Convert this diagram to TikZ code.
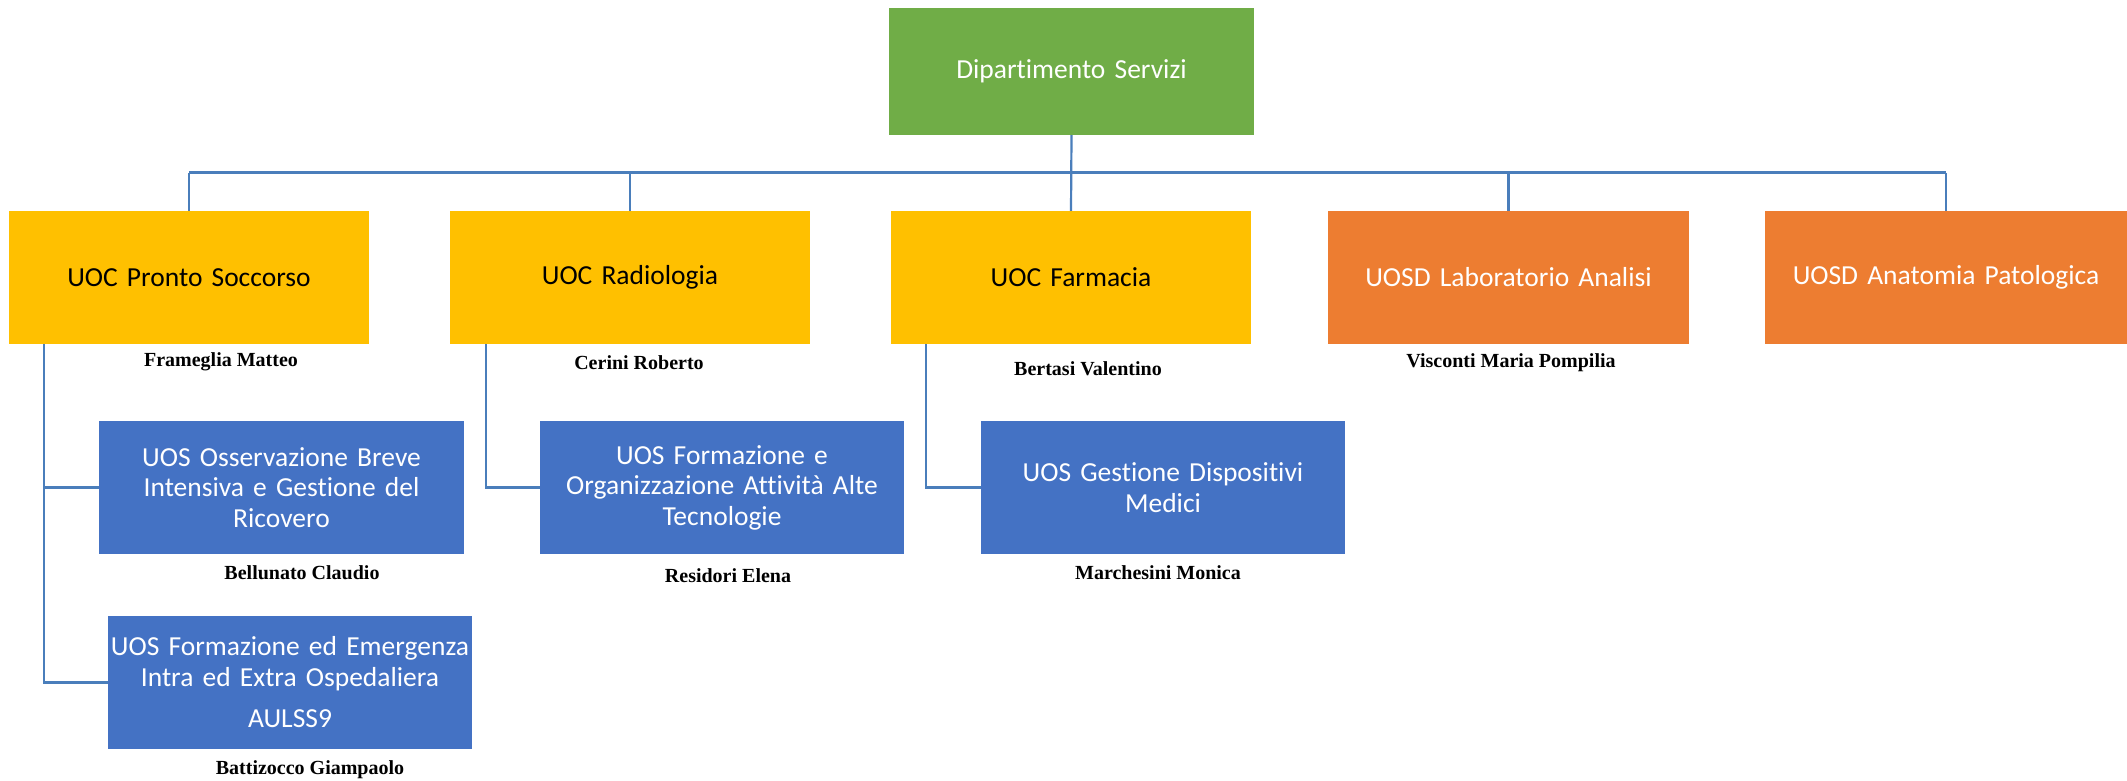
\documentclass[tikz,border=0pt]{standalone}
\usepackage{fontspec}
\setmainfont{Carlito}[RawFeature=-liga, WordSpace=0.8]
\newfontfamily\namefont{Liberation Serif}
\usetikzlibrary{calc}
\definecolor{cgreen}{HTML}{70AD47}
\definecolor{cyellow}{HTML}{FFC000}
\definecolor{corange}{HTML}{ED7D31}
\definecolor{cblue}{HTML}{4472C4}
\definecolor{cline}{HTML}{4A7EBB}
\begin{document}
\begin{tikzpicture}[x=1pt,y=-1pt,
  box/.style={draw=none,inner sep=0pt,minimum height=133,align=center,
    font=\fontsize{27.5}{30.5}\selectfont},
  gbox/.style={box,fill=cgreen,text=white,minimum width=365,minimum height=127,text width=365},
  ybox/.style={box,fill=cyellow,text=black,minimum width=360,text width=360},
  obox/.style={box,fill=corange,text=white,minimum width=362,text width=362},
  bbox/.style={box,fill=cblue,text=white,minimum width=365,text width=365},
  pname/.style={font=\namefont\bfseries\fontsize{20}{22}\selectfont,inner sep=0pt},
  conn/.style={draw=cline,line width=2.2pt},
  barline/.style={draw=cline,line width=2.7pt}]
\useasboundingbox (0,0) rectangle (2127,781);
\fill[white] (0,0) rectangle (2127,781);
% top
\node[gbox] (dip) at (1071.5,71.5) {Dipartimento Servizi};
% second row
\node[ybox] (pr) at (189,277.5) {UOC Pronto Soccorso};
\node[ybox] (rad) at (630,277.5) {UOC Radiologia};
\node[ybox] (far) at (1071,277.5) {UOC Farmacia};
\node[obox, minimum width=361, text width=361] (lab) at (1508.5,277.5) {UOSD Laboratorio Analisi};
\node[obox] (anp) at (1946,277.5) {UOSD Anatomia Patologica};
% third row
\node[bbox] (obs) at (281.5,487.5) {UOS Osservazione Breve\\Intensiva e Gestione del\\Ricovero};
\node[bbox, minimum width=364, text width=364] (foa) at (722,487.5) {UOS Formazione e\\Organizzazione Attività Alte\\Tecnologie};
\node[bbox, minimum width=364, text width=364] (gdm) at (1163,487.5) {UOS Gestione Dispositivi\\Medici};
\node[bbox, minimum width=364, text width=364] (fem) at (290,682.5) {UOS Formazione ed Emergenza\\Intra ed Extra Ospedaliera\\[11pt]AULSS9};
% names
\node[pname] (n1) at (221,362) {Frameglia Matteo};
\node[pname] (n2) at (639,363) {Cerini Roberto};
\node[pname] (n3) at (1088,369) {Bertasi Valentino};
\node[pname] (n4) at (1511,363) {Visconti Maria Pompilia};
\node[pname] (n5) at (302,573) {Bellunato Claudio};
\node[pname] (n6) at (728,576) {Residori Elena};
\node[pname] (n7) at (1158,573) {Marchesini Monica};
\node[pname] (n8) at (310,770) {Battizocco Giampaolo};
% connectors
\coordinate (barL) at ($(pr.north)+(0,-38)$);
\draw[barline] (barL) -- ($(anp.north)+(0,-38)$);
\draw[conn] (barL) -- (pr.north);
\draw[conn] ($(anp.north)+(0,-38)$) -- (anp.north);
\draw[conn] (dip.south) -- (far.north);
\draw[conn] ($(rad.north)+(0,-38)$) -- (rad.north);
\draw[conn] ($(lab.north)+(0,-38)$) -- (lab.north);
\draw[conn] ($(pr.south west)+(35,0)$) |- (obs.west);
\draw[conn] ($(pr.south west)+(35,0)$) |- (fem.west);
\draw[conn] ($(rad.south west)+(36,0)$) |- (foa.west);
\draw[conn] ($(far.south west)+(35,0)$) |- (gdm.west);
\end{tikzpicture}
\end{document}
